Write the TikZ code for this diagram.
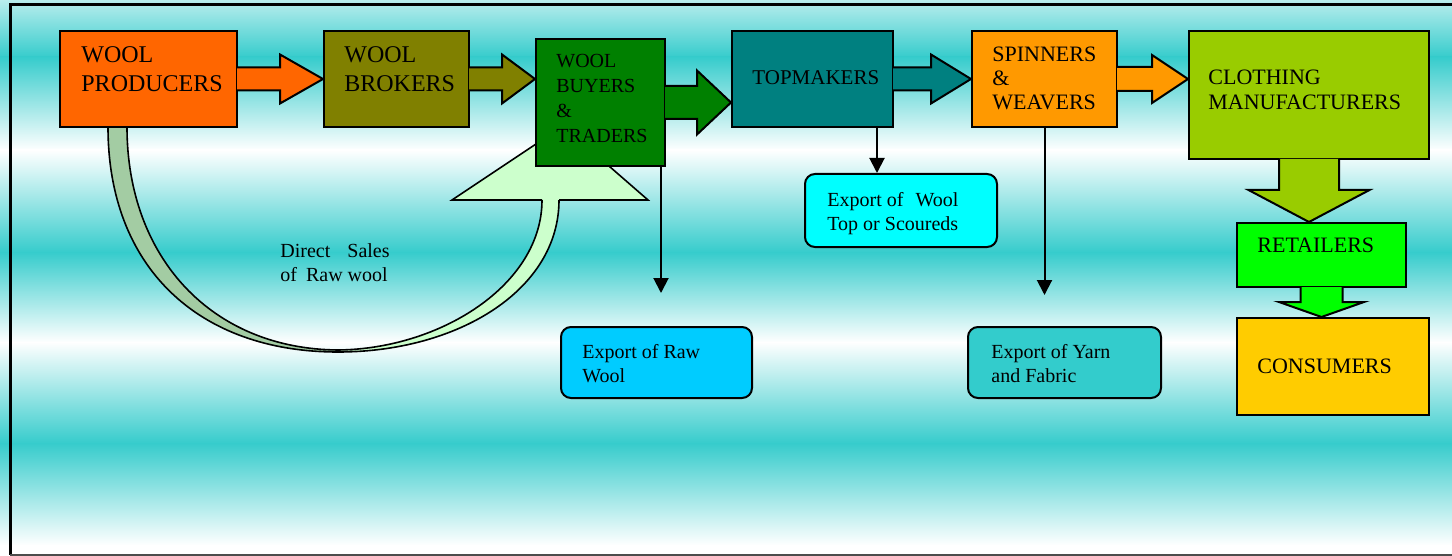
\documentclass[tikz,border=0pt]{standalone}
\usepackage{fontspec}
\setmainfont{Liberation Serif}
\usetikzlibrary{arrows.meta,calc}

\definecolor{bgteal}{HTML}{36CCCC}
\definecolor{prodorange}{HTML}{FF6600}
\definecolor{brokolive}{HTML}{808000}
\definecolor{buygreen}{HTML}{008000}
\definecolor{topteal}{HTML}{008080}
\definecolor{spinorange}{HTML}{FF9900}
\definecolor{clothgreen}{HTML}{99CC00}
\definecolor{retgreen}{HTML}{00FF00}
\definecolor{consyellow}{HTML}{FFCC00}
\definecolor{rawblue}{HTML}{00CCFF}
\definecolor{topcyan}{HTML}{00FFFF}
\definecolor{yarnteal}{HTML}{33CCCC}
\definecolor{sagelight}{HTML}{CCFFCC}
\definecolor{sagedark}{HTML}{A3CCA3}

% block arrow to the right: from, to, shaft half, head half, head length, colour
\newcommand{\blockright}[6]{%
  \path[blockarrow,fill=#6]
    ($(#1.east)+(-1,#3)$) -- ($(#2.west |- #1.east)+(-#5,#3)$)
    -- ($(#2.west |- #1.east)+(-#5,#4)$) -- (#2.west |- #1.east)
    -- ($(#2.west |- #1.east)+(-#5,-#4)$) -- ($(#2.west |- #1.east)+(-#5,-#3)$)
    -- ($(#1.east)+(-1,-#3)$);}
% block arrow downwards, same arguments
\newcommand{\blockdown}[6]{%
  \path[blockarrow,fill=#6]
    ($(#1.south)+(-#3,1)$) -- ($(#2.north -| #1.south)+(-#3,#5)$)
    -- ($(#2.north -| #1.south)+(-#4,#5)$) -- (#2.north -| #1.south)
    -- ($(#2.north -| #1.south)+(#4,#5)$) -- ($(#2.north -| #1.south)+(#3,#5)$)
    -- ($(#1.south)+(#3,1)$);}

\begin{document}
\begin{tikzpicture}[x=0.5pt,y=0.5pt,>={Triangle[length=7.5pt,width=7.5pt]},
    stage/.style={draw,line width=1pt,inner sep=0pt},
    export/.style={stage,rounded corners=5pt},
    boxtext/.style={anchor=north west,inner sep=0pt,align=left},
    blockarrow/.style={draw,line width=1pt,line join=miter},
    exparrow/.style={->,line width=1pt},
    curveband/.style={draw,line width=0.8pt}]

  \useasboundingbox (0,0) rectangle (1452,-556);

  % striped background
  \shade[top color=bgteal!35!white,bottom color=bgteal] (0,0) rectangle (1452,-57.5);
  \shade[top color=bgteal,bottom color=white] (0,-57) rectangle (1452,-150.5);
  \shade[top color=white,bottom color=bgteal] (0,-150) rectangle (1452,-252.5);
  \shade[top color=bgteal,bottom color=white] (0,-252) rectangle (1452,-342.5);
  \shade[top color=white,bottom color=bgteal] (0,-342) rectangle (1452,-443.5);
  \shade[top color=bgteal,bottom color=white] (0,-443) rectangle (1452,-545.5);
  \fill[white] (0,-545) rectangle (1452,-556);
  \draw[line width=1.5pt] (1452,-5) -- (10,-5) -- (10,-555);
  \draw[line width=1pt,black!70] (10,-555) -- (1452,-555);

  % direct sales curve
  \path[curveband,fill=sagedark] (108,-127) .. controls (108,-267) and (198,-352) .. (338,-352)
    -- (338,-350) .. controls (211,-349) and (127,-257) .. (127,-127) -- cycle;
  \path[curveband,fill=sagelight] (542,-200) .. controls (542,-285) and (440,-349) .. (338,-350)
    -- (338,-352) .. controls (458,-352) and (559,-290) .. (559,-200);
  \path[curveband,fill=sagelight] (542,-200) -- (452,-200) -- (563,-126) -- (648,-200) -- (559,-200);

  \node[stage,fill=prodorange,minimum width=88.5pt,minimum height=48pt] (prod) at (148.5,-79) {};
  \node[stage,fill=brokolive,minimum width=72.5pt,minimum height=48pt] (brok) at (396.5,-79) {};
  \node[stage,fill=buygreen,minimum width=64.5pt,minimum height=63.5pt] (buy) at (600.5,-102.5) {};
  \node[stage,fill=topteal,minimum width=80.5pt,minimum height=48pt] (topm) at (812.5,-79) {};
  \node[stage,fill=spinorange,minimum width=72.5pt,minimum height=48pt] (spin) at (1044.5,-79) {};
  \node[stage,fill=clothgreen,minimum width=120pt,minimum height=64pt] (cloth) at (1309,-95) {};
  \node[stage,fill=retgreen,minimum width=84.5pt,minimum height=32pt] (ret) at (1321.5,-255) {};
  \node[stage,fill=consyellow,minimum width=96pt,minimum height=48.5pt] (cons) at (1333,-366.5) {};
  \node[export,fill=rawblue,minimum width=95.5pt,minimum height=35.5pt] (exraw) at (656.5,-362.5) {};
  \node[export,fill=topcyan,minimum width=96pt,minimum height=36.5pt] (extop) at (901,-210.5) {};
  \node[export,fill=yarnteal,minimum width=96.5pt,minimum height=35.5pt] (exyarn) at (1064.5,-362.5) {};

  \blockright{prod}{brok}{11.5}{24.5}{43}{prodorange}
  \blockright{brok}{buy}{11.5}{24.5}{33}{brokolive}
  \blockright{buy}{topm}{16.5}{32}{34}{buygreen}
  \blockright{topm}{spin}{11.5}{24.5}{40}{topteal}
  \blockright{spin}{cloth}{12}{24}{36}{spinorange}
  \blockdown{cloth}{ret}{30}{60.5}{32}{clothgreen}
  \blockdown{ret}{cons}{21}{42.5}{15}{retgreen}

  \coordinate (rawtip) at ($(exraw.north)+(4.5,33)$);
  \coordinate (topdrop) at ([xshift=32.25pt]topm.south);
  \coordinate (yarntip) at ($(spin.south)+(0,-167)$);
  \draw[exparrow] (buy.south -| rawtip) -- (rawtip);
  \draw[exparrow] (topdrop) -- (topdrop |- extop.north);
  \draw[exparrow] (spin.south) -- (yarntip);

  \node[boxtext,font=\fontsize{12}{14.5}\selectfont] (prod-t) at ($(prod.north west)+(22,-16)$) {WOOL\\PRODUCERS};
  \node[boxtext,font=\fontsize{12}{14.5}\selectfont] (brok-t) at ($(brok.north west)+(21,-16)$) {WOOL\\BROKERS};
  \node[boxtext,font=\fontsize{10}{12.5}\selectfont] (buy-t) at ($(buy.north west)+(21,-15.5)$) {WOOL\\BUYERS\\\&\\TRADERS};
  \node[boxtext,font=\fontsize{10.5}{12.5}\selectfont] (topm-t) at ($(topm.north west)+(21,-39.8)$) {TOPMAKERS};
  \node[boxtext,font=\fontsize{11}{12}\selectfont] (spin-t) at ($(spin.north west)+(21,-16.1)$) {SPINNERS\\\&\\WEAVERS};
  \node[boxtext,font=\fontsize{11}{12.5}\selectfont] (cloth-t) at ($(cloth.north west)+(20,-39.1)$) {CLOTHING\\MANUFACTURERS};
  \node[boxtext,font=\fontsize{11}{12.5}\selectfont] (ret-t) at ($(ret.north west)+(21,-15.1)$) {RETAILERS};
  \node[boxtext,font=\fontsize{11}{12.5}\selectfont] (cons-t) at ($(cons.north west)+(21,-41.1)$) {CONSUMERS};
  \node[boxtext,font=\fontsize{10}{12}\selectfont] (extop-t) at ($(extop.north west)+(23,-19.3)$) {Export of\hspace{6pt}Wool\\Top or Scoureds};
  \node[boxtext,font=\fontsize{10}{12}\selectfont] (exraw-t) at ($(exraw.north west)+(22,-18.3)$) {Export of Raw\\Wool};
  \node[boxtext,font=\fontsize{10}{12}\selectfont] (exyarn-t) at ($(exyarn.north west)+(24,-18.3)$) {Export of Yarn\\and Fabric};
  \node[boxtext,font=\fontsize{10}{12}\selectfont] (direct-t) at (280,-243.3) {Direct\hspace{8.5pt}Sales\\of\hspace{4.5pt}Raw wool};
\end{tikzpicture}
\end{document}
